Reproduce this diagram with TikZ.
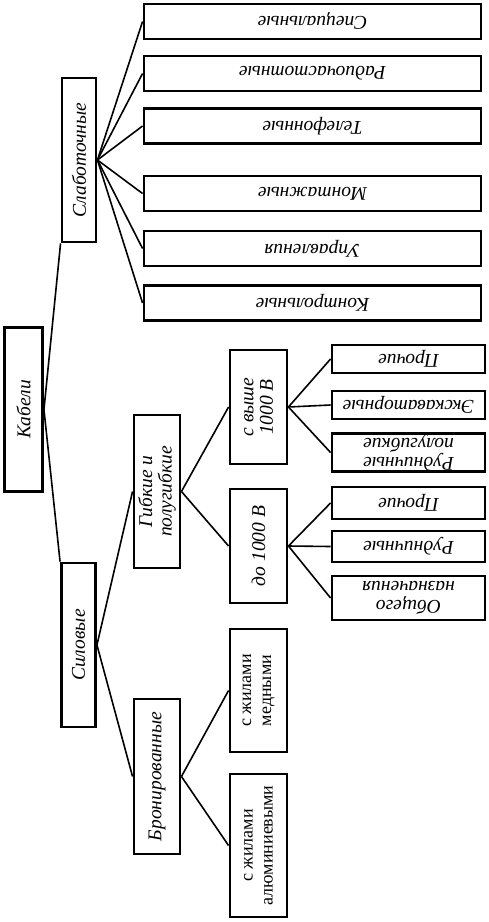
\documentclass[tikz,border=0pt]{standalone}
\usepackage{fontspec}
\setmainfont{Liberation Serif}

\begin{document}
\begin{tikzpicture}[x=1pt,y=-1pt,font=\fontsize{19.5}{19.5}\selectfont\itshape,
  box/.style={draw,line width=2.9pt,inner sep=0pt,align=center},
  upbox/.style={box,rotate=90},
  downbox/.style={box,rotate=180},
  con/.style={line width=1.6pt}]
\useasboundingbox (0,0) rectangle (489,922);
% upright boxes: picture east is .south, picture west is .north
\node[upbox,minimum width=164,minimum height=38] (kab) at (23.5,409.5) {Кабели};
\node[upbox,minimum width=164,minimum height=34] (slab) at (79,160) {Слаботочные};
\node[upbox,minimum width=164,minimum height=34] (sil) at (78.5,645) {Силовые};
\draw[con] (kab.south) -- (slab.north west);
\draw[con] (kab.south) -- (sil.north east);
\foreach \n/\y/\t in {sp/21.5/Специальные,rad/73.5/Радиочастотные,tel/126/Телефонные,
    mon/193.5/Монтажные,upr/248.5/Управления,kon/303/Контрольные}{
  \node[downbox,minimum width=337,minimum height=35] (\n) at (312.5,\y) {\t};
  \draw[con] (slab.south) -- (\n.east);
}
\node[upbox,minimum width=153,minimum height=46] (gib) at (157,491.5) {Гибкие и\\полугибкие};
\node[upbox,minimum width=155,minimum height=46] (bron) at (157,776.5) {Бронированные};
\draw[con] (sil.south) -- (gib.north);
\draw[con] (sil.south) -- (bron.north);
\node[upbox,minimum width=114,minimum height=57] (vys) at (258.5,407) {с выше\\1000 В};
\node[upbox,minimum width=114,minimum height=57] (do) at (258.5,546) {до 1000 В};
\draw[con] (gib.south) -- (vys.north);
\draw[con] (gib.south) -- (do.north);
\node[upbox,minimum width=123,minimum height=57,font=\fontsize{18}{20}\selectfont\upshape]
  (med) at (258.5,690.5) {с жилами\\медными};
\node[upbox,minimum width=143,minimum height=57,font=\fontsize{18}{20}\selectfont\upshape]
  (alu) at (258.5,845.5) {с жилами\\алюминиевыми};
\draw[con] (bron.south) -- (med.north);
\draw[con] (bron.south) -- (alu.north);
\foreach \n/\p/\y/\h/\t in {pr1/vys/359/28/Прочие,ek/vys/405/28/Экскаваторные,
    rp/vys/452.5/37/{Рудничные\\полугибкие},pr2/do/503/32/Прочие,
    ru/do/546.5/31/Рудничные,ob/do/598/44/{Общего\\назначения}}{
  \node[downbox,minimum width=153,minimum height=\h] (\n) at (408.5,\y) {\t};
  \draw[con] (\p.south) -- (\n.east);
}
\end{tikzpicture}
\end{document}
